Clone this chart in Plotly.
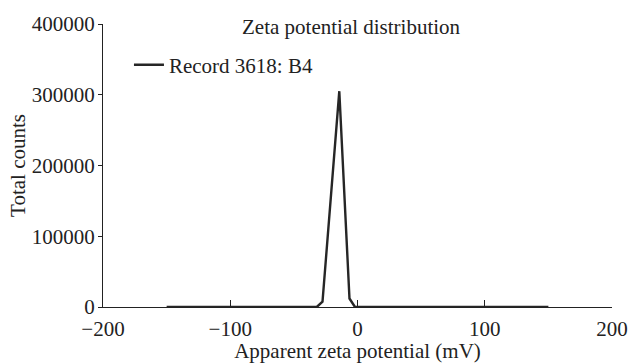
import plotly.graph_objects as go

zeta_mv = [-150, -32, -27.5, -24.8, -18.7, -14.3, -6.3, -2, 150]
total_counts = [0, 0, 7500, 70000, 215000, 305000, 12000, 0, 0]
series_name = "Record 3618: B4"
x_ticks = [-200, -100, 0, 100, 200]
y_ticks = [0, 100000, 200000, 300000, 400000]

FONT = "Liberation Serif"
INK = "#222"
FS = 21

fig = go.Figure()
fig.add_trace(go.Scatter(
    x=zeta_mv, y=total_counts, mode="lines", name=series_name,
    line=dict(color="#262626", width=2.4),
))

fig.update_layout(
    width=629, height=363,
    margin=dict(l=103, r=17, t=24, b=56, autoexpand=False),
    paper_bgcolor="white", plot_bgcolor="white",
    font=dict(family=FONT, size=FS, color=INK),
    showlegend=True,
    legend=dict(x=0.051, y=0.855, xanchor="left", yanchor="middle",
                bgcolor="rgba(0,0,0,0)", font=dict(family=FONT, size=FS, color=INK)),
    annotations=[dict(text="Zeta potential distribution", x=0.489, y=1.0, yshift=-3,
                      xref="paper", yref="paper", xanchor="center", yanchor="middle",
                      showarrow=False, font=dict(family=FONT, size=FS, color=INK))],
)
fig.update_xaxes(
    range=[-200, 200], tickvals=x_ticks, ticks="inside", ticklen=7,
    tickcolor=INK, tickwidth=1.3, automargin=False, ticklabelstandoff=3,
    tickfont=dict(family=FONT, size=FS, color=INK),
    showline=True, linecolor=INK, linewidth=1.3, showgrid=False, zeroline=False,
    title=dict(text="Apparent zeta potential (mV)", standoff=0,
               font=dict(family=FONT, size=FS, color=INK)),
)
fig.update_yaxes(
    range=[0, 400000], tickvals=y_ticks, ticktext=[str(v) for v in y_ticks],
    ticks="outside", ticklen=4, tickcolor=INK, tickwidth=1.3, automargin=False,
    ticklabelstandoff=-1,
    tickfont=dict(family=FONT, size=FS, color=INK),
    showline=True, linecolor=INK, linewidth=1.3, showgrid=False, zeroline=False,
    title=dict(text="Total counts", standoff=0,
               font=dict(family=FONT, size=FS, color=INK)),
)
fig.write_html("out.html", config={"displayModeBar": False},
               post_script="document.body.style.margin='0';")
